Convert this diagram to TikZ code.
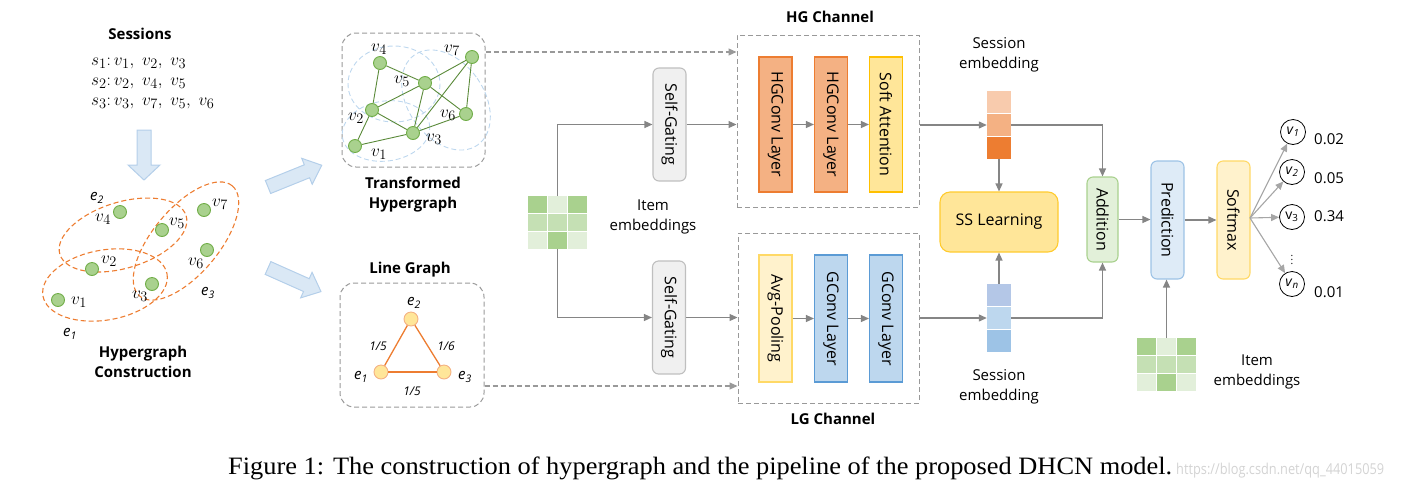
\documentclass[tikz,border=0pt]{standalone}
\usepackage[no-math]{fontspec}
\setmainfont{Open Sans}
\newfontfamily\capfont{Liberation Serif}
\usetikzlibrary{arrows.meta,calc}
\definecolor{agray}{HTML}{858585}
\definecolor{dgray}{HTML}{999999}
\definecolor{lgray}{HTML}{A6A6A6}
\definecolor{barf}{HTML}{DAE8F5}
\definecolor{bard}{HTML}{B4CFEA}
\definecolor{hblue}{HTML}{BDD7EE}
\definecolor{orng}{HTML}{ED7D31}
\definecolor{orngl}{HTML}{F4B183}
\definecolor{orngxl}{HTML}{F8CBAD}
\definecolor{yel}{HTML}{FFE699}
\definecolor{yeld}{HTML}{FFC000}
\definecolor{yell}{HTML}{FFF2CC}
\definecolor{yelm}{HTML}{FFD966}
\definecolor{blu}{HTML}{BDD7EE}
\definecolor{blud}{HTML}{5B9BD5}
\definecolor{blum}{HTML}{9DC3E6}
\definecolor{blux}{HTML}{B4C7E7}
\definecolor{blul}{HTML}{DEEBF7}
\definecolor{grn}{HTML}{A9D18E}
\definecolor{grnd}{HTML}{70AD47}
\definecolor{grnm}{HTML}{C5E0B4}
\definecolor{grnl}{HTML}{E2EFDA}
\definecolor{grnadd}{HTML}{E2F0D9}
\definecolor{sgf}{HTML}{F0F0F0}
\definecolor{sgd}{HTML}{BFBFBF}
\definecolor{wm}{HTML}{D3D3D3}
\tikzset{
  lbl/.style={font=\fontsize{15}{20}\selectfont, align=center, inner sep=0},
  blbl/.style={font=\bfseries\fontsize{15}{20}\selectfont, align=center, inner sep=0},
  mlbl/.style={font=\fontsize{19}{21}\selectfont, inner sep=0},
  elbl/.style={font=\itshape\fontsize{15}{18}\selectfont, inner sep=0},
  wlbl/.style={font=\itshape\fontsize{12}{14}\selectfont, inner sep=0},
  gnode/.style={circle, fill=grn, draw=grnd, line width=0.9pt, minimum size=13pt, inner sep=0},
  ynode/.style={circle, fill=yel, draw=orngl, line width=0.9pt, minimum size=14pt, inner sep=0},
  hedge/.style={draw=orng, dashed, dash pattern=on 5pt off 3pt, line width=1.1pt},
  bedge/.style={draw=hblue, dashed, dash pattern=on 5pt off 3pt, line width=0.9pt},
  gedge/.style={draw=grnd!80!black, line width=0.9pt},
  dbox/.style={draw=dgray, dashed, dash pattern=on 5pt off 3pt, line width=1pt, inner sep=0},
  blk/.style={rectangle, minimum width=33pt, inner sep=0, line width=1.1pt, font=\fontsize{16}{16}\selectfont},
  sgate/.style={blk, rounded corners=6pt, fill=sgf, draw=sgd, minimum height=113pt},
  arr/.style={draw=agray, line width=1.2pt, -{Triangle[length=8pt,width=7pt]}},
  darr/.style={draw=dgray, line width=1.1pt, dashed, dash pattern=on 5pt off 3pt, -{Triangle[length=8pt,width=7pt]}},
  oarr/.style={draw=lgray, line width=1.1pt, -{Triangle[length=8pt,width=7pt]}},
  cell/.style={rectangle, minimum width=18.5pt, minimum height=16.5pt, inner sep=0},
  sq/.style={rectangle, minimum width=24pt, minimum height=22pt, inner sep=0},
  onode/.style={circle, draw=black, line width=0.8pt, minimum size=25pt, inner sep=0, font=\fontsize{14}{14}\selectfont},
  blkarrow/.style={fill=barf, draw=bard, line width=1pt},
}
\begin{document}
\begin{tikzpicture}[x=1pt,y=-1pt]
\useasboundingbox (0,0) rectangle (1418,491);

% ---------- Sessions ----------
\node[blbl] (sesst) at (140,34) {Sessions};
\node[mlbl, anchor=west] (s1) at (91,63) {$s_1{:}\,v_1,\ v_2,\ v_3$};
\node[mlbl, anchor=west] (s2) at (91,83) {$s_2{:}\,v_2,\ v_4,\ v_5$};
\node[mlbl, anchor=west] (s3) at (91,103) {$s_3{:}\,v_3,\ v_7,\ v_5,\ v_6$};
\draw[blkarrow] (137,130) -- (151,130) -- (151,165) -- (160,165) -- (144,180) -- (128,165) -- (137,165) -- cycle;

% ---------- Hypergraph construction ----------
\draw[hedge, rotate around={10:(105,285)}] (105,285) ellipse [x radius=63, y radius=35];
\draw[hedge, rotate around={17:(123,235)}] (123,235) ellipse [x radius=66, y radius=33];
\draw[hedge, rotate around={50:(186,241)}] (186,241) ellipse [x radius=72, y radius=33];
\node[gnode] (a4) at (120,212) {};
\node[gnode] (a5) at (162,230) {};
\node[gnode] (a7) at (204,210) {};
\node[gnode] (a6) at (207,250) {};
\node[gnode] (a2) at (92,269) {};
\node[gnode] (a3) at (152,284) {};
\node[gnode] (a1) at (58,300) {};
\node[mlbl] (la4) at (103,219) {$v_4$};
\node[mlbl] (la5) at (177,223) {$v_5$};
\node[mlbl] (la7) at (220,204) {$v_7$};
\node[mlbl] (la6) at (196,263) {$v_6$};
\node[mlbl] (la2) at (109,261) {$v_2$};
\node[mlbl] (la3) at (140,296) {$v_3$};
\node[mlbl] (la1) at (79,302) {$v_1$};
\node[elbl] (le2) at (97,198) {e\textsubscript{2}};
\node[elbl] (le3) at (208,293) {e\textsubscript{3}};
\node[elbl] (le1) at (70,334) {e\textsubscript{1}};
\node[blbl] (hct) at (143,362) {Hypergraph\\Construction};

% block arrows
\begin{scope}[shift={(268,187)}, rotate=22]
\draw[blkarrow] (0,-7) -- (42,-7) -- (42,-14) -- (58,0) -- (42,14) -- (42,7) -- (0,7) -- cycle;
\end{scope}
\begin{scope}[shift={(268,268)}, rotate=-24]
\draw[blkarrow] (0,-7) -- (42,-7) -- (42,-14) -- (58,0) -- (42,14) -- (42,7) -- (0,7) -- cycle;
\end{scope}

% ---------- Transformed Hypergraph ----------
\node[dbox, rounded corners=14pt, minimum width=143pt, minimum height=134pt] (thbox) at (413.5,100) {};
\draw[bedge] (394,84) ellipse [x radius=46, y radius=38];
\draw[bedge, rotate around={8:(386,131)}] (386,131) ellipse [x radius=44, y radius=30];
\draw[bedge, rotate around={35:(446,100)}] (446,100) ellipse [x radius=38, y radius=55];
\node[gnode] (b4) at (380,63) {};
\node[gnode] (b5) at (425,83) {};
\node[gnode] (b7) at (472,57) {};
\node[gnode] (b6) at (466,114) {};
\node[gnode] (b2) at (372,110) {};
\node[gnode] (b3) at (413,133) {};
\node[gnode] (b1) at (355,146) {};
\draw[gedge] (b4) -- (b2);
\draw[gedge] (b4) -- (b5);
\draw[gedge] (b2) -- (b5);
\draw[gedge] (b2) -- (b3);
\draw[gedge] (b2) -- (b1);
\draw[gedge] (b1) -- (b3);
\draw[gedge] (b5) -- (b3);
\draw[gedge] (b5) -- (b6);
\draw[gedge] (b7) -- (b5);
\draw[gedge] (b7) -- (b3);
\draw[gedge] (b7) -- (b6);
\draw[gedge] (b3) -- (b6);
\node[mlbl] (lb4) at (379,49) {$v_4$};
\node[mlbl] (lb5) at (402,81) {$v_5$};
\node[mlbl] (lb7) at (452,50) {$v_7$};
\node[mlbl] (lb6) at (448,115) {$v_6$};
\node[mlbl] (lb2) at (356,118) {$v_2$};
\node[mlbl] (lb3) at (434,139) {$v_3$};
\node[mlbl] (lb1) at (379,154) {$v_1$};
\node[blbl] (tht) at (413,195) {Transformed\\Hypergraph};

% ---------- Line Graph ----------
\node[blbl] (lgt) at (410,270) {Line Graph};
\node[dbox, rounded corners=14pt, minimum width=144pt, minimum height=124pt] (lgbox2) at (412,345) {};
\node[ynode] (c2) at (411,319) {};
\node[ynode] (c1) at (381,372) {};
\node[ynode] (c3) at (444,372) {};
\draw[draw=orng, line width=1.3pt] (c1) -- (c2);
\draw[draw=orng, line width=1.3pt] (c2) -- (c3);
\draw[draw=orng, line width=1.3pt] (c1) -- (c3);
\node[elbl] (lc2) at (414,303) {e\textsubscript{2}};
\node[elbl] (lc1) at (361,377) {e\textsubscript{1}};
\node[elbl] (lc3) at (465,377) {e\textsubscript{3}};
\node[wlbl] (w1) at (378,346) {1/5};
\node[wlbl] (w2) at (446,346) {1/6};
\node[wlbl] (w3) at (412,391) {1/5};

% ---------- Item embeddings (left) ----------
\node[cell, fill=grn]  (m11) at (537.5,204.5) {};
\node[cell, fill=grnl] (m12) at (557.5,204.5) {};
\node[cell, fill=grn]  (m13) at (577.5,204.5) {};
\node[cell, fill=grnm] (m21) at (537.5,222.5) {};
\node[cell, fill=grnm] (m22) at (557.5,222.5) {};
\node[cell, fill=grnm] (m23) at (577.5,222.5) {};
\node[cell, fill=grnl] (m31) at (537.5,240.5) {};
\node[cell, fill=grn]  (m32) at (557.5,240.5) {};
\node[cell, fill=grnl] (m33) at (577.5,240.5) {};
\node[lbl] (iet) at (653,217) {Item\\embeddings};

\node[sgate] (sg1) at (669.5,124.5) {\rotatebox{-90}{Self-Gating}};
\node[sgate] (sg2) at (669,317.5) {\rotatebox{-90}{Self-Gating}};
\draw[arr] (m12.north) |- (sg1.west);
\draw[arr] (m32.south) |- (sg2.west);

% ---------- HG Channel ----------
\node[blbl] (hgt) at (830,17) {HG Channel};
\node[dbox, minimum width=182pt, minimum height=172pt] (hgbox) at (828,121) {};
\node[blk, fill=orngl, draw=orng, minimum height=135pt] (hg1) at (775.5,124.5) {\rotatebox{-90}{HGConv Layer}};
\node[blk, fill=orngl, draw=orng, minimum height=135pt] (hg2) at (831,124.5) {\rotatebox{-90}{HGConv Layer}};
\node[blk, fill=yel, draw=yeld, minimum height=135pt] (sa) at (886,124.5) {\rotatebox{-90}{Soft Attention}};
\draw[arr] (hg1.east) -- (hg2.west);
\draw[arr] (hg2.east) -- (sa.west);
\draw[arr] (sg1.east) -- (sg1.east -| hgbox.west);
\draw[darr] (thbox.east |- 0,52) -- (hgbox.west |- 0,52);

% ---------- LG Channel ----------
\node[blbl] (lgct) at (833,419) {LG Channel};
\node[dbox, minimum width=181pt, minimum height=170pt] (lgbox) at (828.5,318) {};
\node[blk, fill=yell, draw=yelm, minimum height=127pt] (ap) at (775.5,318.5) {\rotatebox{-90}{Avg-Pooling}};
\node[blk, fill=blu, draw=blud, minimum height=127pt] (gc1) at (831,318.5) {\rotatebox{-90}{GConv Layer}};
\node[blk, fill=blu, draw=blud, minimum height=127pt] (gc2) at (886,318.5) {\rotatebox{-90}{GConv Layer}};
\draw[arr] (ap.east) -- (gc1.west);
\draw[arr] (gc1.east) -- (gc2.west);
\draw[arr] (sg2.east) -- (sg2.east -| lgbox.west);
\draw[darr] (lgbox2.east |- 0,386) -- (lgbox.west |- 0,386);

% ---------- Session embeddings & SS ----------
\node[lbl] (set1) at (999,55) {Session\\embedding};
\node[sq, fill=orngxl] (st1) at (999,102) {};
\node[sq, fill=orngl]  (st2) at (999,125) {};
\node[sq, fill=orng]   (st3) at (999,148) {};
\node[sq, fill=blux] (sb1) at (999,295) {};
\node[sq, fill=blu]  (sb2) at (999,318) {};
\node[sq, fill=blum] (sb3) at (999,341) {};
\node[lbl] (set2) at (999,387) {Session\\embedding};
\node[rectangle, rounded corners=10pt, fill=yel, draw=yeld!70!yel, line width=1.1pt, minimum width=118pt, minimum height=60pt, font=\fontsize{16}{16}\selectfont] (ss) at (999,222) {SS Learning};
\draw[arr] (hgbox.east |- st2.west) -- (st2.west);
\draw[arr] (lgbox.east |- sb2.west) -- (sb2.west);
\draw[arr] (st3.south) -- (ss.north);
\draw[arr] (sb1.north) -- (ss.south);

% ---------- Addition / Prediction / Softmax ----------
\node[blk, rounded corners=6pt, fill=grnadd, draw=grn, minimum width=31pt, minimum height=85pt] (add) at (1102.5,219.5) {\rotatebox{-90}{Addition}};
\node[blk, rounded corners=6pt, fill=blul, draw=blum, minimum height=118pt] (pred) at (1167.5,220) {\rotatebox{-90}{Prediction}};
\node[blk, rounded corners=6pt, fill=yell, draw=yelm, minimum height=118pt] (soft) at (1233.5,220) {\rotatebox{-90}{Softmax}};
\draw[arr] (st2.east) -| (add.north);
\draw[arr] (sb2.east) -| (add.south);
\draw[arr] (add.east) -- (add.east -| pred.west);
\draw[arr] (pred.east) -- (soft.west);

% bottom item embeddings
\node[cell, fill=grn]  (n11) at (1146.5,346.5) {};
\node[cell, fill=grnl] (n12) at (1166.5,346.5) {};
\node[cell, fill=grn]  (n13) at (1186.5,346.5) {};
\node[cell, fill=grnm] (n21) at (1146.5,364.5) {};
\node[cell, fill=grnm] (n22) at (1166.5,364.5) {};
\node[cell, fill=grnm] (n23) at (1186.5,364.5) {};
\node[cell, fill=grnl] (n31) at (1146.5,382.5) {};
\node[cell, fill=grn]  (n32) at (1166.5,382.5) {};
\node[cell, fill=grnl] (n33) at (1186.5,382.5) {};
\node[lbl] (iet2) at (1257,372) {Item\\embeddings};
\draw[arr] (n12.north) -- (n12.north |- pred.south);

% ---------- outputs ----------
\node[onode] (o1) at (1293,132) {\textit{v}\textsubscript{\textit{1}}};
\node[onode] (o2) at (1292,172) {\textit{v}\textsubscript{\textit{2}}};
\node[onode] (o3) at (1292,217) {v\textsubscript{3}};
\node[onode] (on) at (1292,284) {\textit{v}\textsubscript{\textit{n}}};
\node[inner sep=0, font=\fontsize{10}{10}\selectfont] (dots) at (1292,257) {$\vdots$};
\coordinate (sx) at (1250,218);
\draw[oarr] (sx) -- (o1);
\draw[oarr] (sx) -- (o2);
\draw[oarr] (sx) -- (o3);
\draw[oarr] (sx) -- (on);
\node[lbl, anchor=west] (p1) at (1314,139) {0.02};
\node[lbl, anchor=west] (p2) at (1314,178) {0.05};
\node[lbl, anchor=west] (p3) at (1314,216) {0.34};
\node[lbl, anchor=west] (pn) at (1314,292) {0.01};

% ---------- caption ----------
\node[inner sep=0, anchor=base west] (cap) at (228,474) {\resizebox{944pt}{\height}{\capfont\fontsize{25}{25}\selectfont Figure 1: The construction of hypergraph and the pipeline of the proposed DHCN model.}};
\node[inner sep=0, anchor=base west] (wmk) at (1176,474) {\resizebox{208pt}{\height}{\color{wm}\fontsize{15}{15}\selectfont https://blog.csdn.net/qq\_44015059}};
\end{tikzpicture}
\end{document}
